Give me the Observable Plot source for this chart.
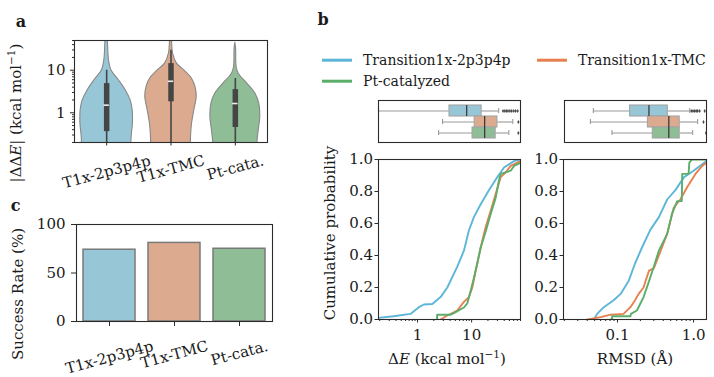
<!DOCTYPE html>
<html><head><meta charset="utf-8">
<script src="https://cdn.jsdelivr.net/npm/d3@7"></script>
<script src="https://cdn.jsdelivr.net/npm/@observablehq/plot@0.6"></script>
<style>
body{margin:0;background:#fff;}
#root{position:relative;width:714px;height:377px;overflow:hidden;color:#1a1a1a;background:#fff;}
.p{position:absolute;line-height:0;}
.lbl{position:absolute;white-space:nowrap;line-height:1;}
.rot{transform:translate(-50%,-50%) rotate(-90deg);}
.ctr{transform:translate(-50%,-50%);}
.pl{position:absolute;font-weight:bold;line-height:1;transform:translate(-50%,-50%);}
.leg{position:absolute;line-height:1;white-space:nowrap;transform:translateY(-50%);}
.sw{position:absolute;width:30px;height:2.6px;transform:translateY(-50%);}
sup{font-size:0.7em;vertical-align:0.5em;line-height:0;}
</style></head><body><div id="root"></div><script>
// ---------- data ----------
const groups = ["T1x-2p3p4p", "T1x-TMC", "Pt-cata."];
const seriesNames = ["Transition1x-2p3p4p", "Transition1x-TMC", "Pt-catalyzed"];
const fillColors = ["#97c6d7", "#dcaa8e", "#8ebd96"];
const lineColors = ["#5cb6d8", "#e6804f", "#5aae69"];

// panel a: violin profiles (|ΔΔE| value, relative half-width)
const violinBlueV = [0.15, 0.27, 0.56, 1.16, 1.98, 3.4, 5.8, 10, 17.1, 46, 60];
const violinBlueW = [0.95, 0.96, 1.01, 1.0, 0.92, 0.73, 0.47, 0.18, 0.09, 0.05, 0.04];
const violinOrangeV = [0.15, 0.27, 0.56, 1.16, 2.37, 4.06, 6.4, 10, 14.3, 24.5, 46, 60];
const violinOrangeW = [0.76, 0.77, 0.81, 0.9, 0.99, 0.94, 0.8, 0.5, 0.23, 0.08, 0.04, 0.03];
const violinGreenV = [0.15, 0.2, 0.39, 0.8, 1.65, 2.83, 4.85, 8.3, 11.9, 32, 44];
const violinGreenW = [0.84, 0.85, 0.9, 0.96, 0.92, 0.77, 0.46, 0.13, 0.05, 0.03, 0.0];
const violinLo = [0.1, 0.1, 0.1];
const violinQ1 = [0.36, 1.81, 0.45];
const violinMed = [1.51, 5.5, 1.65];
const violinQ3 = [4.85, 14.3, 3.5];
const violinHi = [10, 29.4, 6.4];
const aMajorTicks = [1, 10];
const aMinorTicks = [0.2, 0.3, 0.4, 0.5, 0.6, 0.7, 0.8, 0.9, 2, 3, 4, 5, 6, 7, 8, 9, 20, 30, 40, 50];

// panel c
const successRate = [74, 81, 75];
const cTicks = [0, 50, 100];

// panel b: box summaries, ΔE
const dEBoxLo = [0.19, 2.9, 2.45];
const dEBoxQ1 = [3.9, 11.4, 10.4];
const dEBoxMed = [8.1, 17.4, 17.4];
const dEBoxQ3 = [15.3, 30, 27.8];
const dEBoxHi = [31.6, 57.5, 48.7];
const dEOutBlue = [38, 41, 44, 47, 51, 55, 60, 65, 71];
const dEOutOrange = [73];
const dEOutGreen = [73];
// panel b: box summaries, RMSD
const rmsdBoxLo = [0.047, 0.043, 0.083];
const rmsdBoxQ1 = [0.144, 0.248, 0.288];
const rmsdBoxMed = [0.256, 0.469, 0.469];
const rmsdBoxQ3 = [0.455, 0.654, 0.654];
const rmsdBoxHi = [0.885, 1.13, 0.97];
const rmsdOutBlue = [0.93, 0.98, 1.03, 1.08, 1.13, 1.2, 1.4];
const rmsdOutOrange = [1.35];
const rmsdOutGreen = [1.46];

// panel b: ECDFs, ΔE
const dEBlueX = [0.19, 0.36, 0.74, 1.06, 1.31, 1.87, 2.67, 3.55, 5.43, 7.2, 8.9, 11, 14.7, 21, 29.9, 39.7, 61, 80];
const dEBlueP = [0.01, 0.02, 0.035, 0.077, 0.094, 0.097, 0.14, 0.2, 0.33, 0.43, 0.556, 0.64, 0.72, 0.81, 0.89, 0.95, 0.99, 1.0];
const dEOrangeX = [2.67, 3.55, 5.43, 7.2, 8.9, 10.3, 11.9, 14.7, 18.2, 22.5, 27.8, 34.5, 42.6, 52.7, 70, 80];
const dEOrangeP = [0, 0.025, 0.056, 0.11, 0.14, 0.2, 0.306, 0.45, 0.58, 0.68, 0.785, 0.89, 0.92, 0.96, 0.98, 0.99];
const dEGreenX = [2.3, 2.3, 4.1, 4.7, 7.2, 8.3, 9.6, 11, 12.7, 14.7, 18.2, 22.5, 27.8, 32, 34.5, 52.7, 61, 70, 80];
const dEGreenP = [0, 0.03, 0.03, 0.04, 0.075, 0.1, 0.18, 0.26, 0.35, 0.45, 0.55, 0.66, 0.76, 0.87, 0.91, 0.93, 0.96, 0.97, 0.98];
// panel b: ECDFs, RMSD
const rmsdBlueX = [0.049, 0.054, 0.066, 0.089, 0.11, 0.14, 0.17, 0.21, 0.27, 0.35, 0.45, 0.58, 0.75, 1.0, 1.3, 1.48];
const rmsdBlueP = [0, 0.035, 0.077, 0.12, 0.16, 0.24, 0.35, 0.45, 0.56, 0.64, 0.75, 0.81, 0.89, 0.93, 0.97, 0.99];
const rmsdOrangeX = [0.04, 0.06, 0.081, 0.12, 0.148, 0.17, 0.19, 0.22, 0.26, 0.30, 0.35, 0.45, 0.55, 0.67, 0.83, 1.06, 1.3, 1.48];
const rmsdOrangeP = [0, 0.015, 0.03, 0.035, 0.077, 0.12, 0.16, 0.2, 0.306, 0.32, 0.4, 0.535, 0.70, 0.75, 0.83, 0.91, 0.96, 0.98];
const rmsdGreenX = [0.081, 0.085, 0.085, 0.148, 0.15, 0.18, 0.2, 0.22, 0.26, 0.3, 0.35, 0.45, 0.52, 0.61, 0.7, 0.71, 0.86, 0.88, 0.95, 1.48];
const rmsdGreenP = [0, 0, 0.02, 0.02, 0.035, 0.056, 0.1, 0.14, 0.24, 0.33, 0.43, 0.535, 0.66, 0.74, 0.74, 0.91, 0.91, 0.98, 1.0, 1.0];

const cdfYTicks = [0, 0.2, 0.4, 0.6, 0.8, 1.0];
const dEDomain = [0.19, 80];
const dEMajorTicks = [1, 10];
const dEMinorTicks = [0.2, 0.3, 0.4, 0.5, 0.6, 0.7, 0.8, 0.9, 2, 3, 4, 5, 6, 7, 8, 9, 20, 30, 40, 50, 60, 70, 80];
const rmsdDomain = [0.0195, 1.48];
const rmsdMajorTicks = [0.1, 1.0];
const rmsdMinorTicks = [0.02, 0.03, 0.04, 0.05, 0.06, 0.07, 0.08, 0.09, 0.2, 0.3, 0.4, 0.5, 0.6, 0.7, 0.8, 0.9];

// ---------- font pick ----------
const ctx = document.createElement("canvas").getContext("2d");
function wOf(font) { ctx.font = font; return ctx.measureText("Transition1x-2p3p4p mwil").width; }
function available(name) {
  return wOf(`20px '${name}', monospace`) !== wOf("20px monospace") || wOf(`20px '${name}', sans-serif`) !== wOf("20px sans-serif");
}
const candidates = [["DejaVu Serif", 1.0], ["Liberation Serif", 1.12], ["Noto Serif", 1.0]];
let FAMNAME = "DejaVu Serif", K = 1.0;
for (const [n, k] of candidates) { if (available(n)) { FAMNAME = n; K = k; break; } }
const FONT = `'${FAMNAME}', serif`;
const FS = 15 * K, LFS = 14 * K, PFS = 16 * K;

// ---------- helpers ----------
const root = document.getElementById("root");
root.style.fontFamily = FONT;
const INK = "#1a1a1a";
const SPINE = "#2b2b2b";
const baseStyle = {fontFamily: FONT, fontSize: FS + "px", color: INK, background: "transparent", overflow: "visible"};
function place(node, left, top) {
  const d = document.createElement("div");
  d.className = "p"; d.style.left = left + "px"; d.style.top = top + "px";
  d.appendChild(node); root.appendChild(d);
}
function html(cls, left, top, inner, size, extra) {
  const d = document.createElement("div");
  d.className = cls; d.style.left = left + "px"; d.style.top = top + "px";
  if (size) d.style.fontSize = size + "px";
  d.innerHTML = inner; if (extra) Object.assign(d.style, extra);
  root.appendChild(d); return d;
}
ctx.font = `${FS}px ${FONT}`;
const ROT = 15 * Math.PI / 180;
function rotatedLabels(xOf, base) {
  ctx.font = `${FS}px ${FONT}`;
  return groups.map((g, i) => {
    const w = ctx.measureText(g).width;
    const dy = base + (w * Math.sin(ROT) + FS * Math.cos(ROT)) / 2;
    return Plot.text([g], {x: () => xOf(g, i), text: d => d, frameAnchor: "bottom", dy, rotate: -15,
      textAnchor: "middle", lineAnchor: "middle", fontSize: FS, fill: INK});
  });
}
const colorScale = {domain: groups, range: fillColors};
const VW = 0.404; // relative half-width -> x units

// ---------- panel a ----------
const violinV = [violinBlueV, violinOrangeV, violinGreenV];
const violinW = [violinBlueW, violinOrangeW, violinGreenW];
const violinRows = groups.flatMap((g, i) => violinV[i].map((v, j) => ({group: g, i, v, w: violinW[i][j]})));
const boxA = groups.map((g, i) => ({group: g, i, lo: violinLo[i], q1: violinQ1[i], med: violinMed[i], q3: violinQ3[i], hi: violinHi[i]}));
place(Plot.plot({
  width: 290, height: 190, marginLeft: 74, marginRight: 23, marginTop: 40, marginBottom: 48,
  style: baseStyle,
  x: {domain: [-0.5, 2.5], axis: null},
  y: {type: "log", domain: [0.2, 50], axis: null},
  color: colorScale,
  marks: [
    Plot.areaX(violinRows, {y: "v", x1: d => d.i - d.w * VW, x2: d => d.i + d.w * VW, z: "group", fill: "group",
      stroke: "#888", strokeWidth: 1.1, curve: "catmull-rom", clip: true}),
    Plot.ruleX(boxA, {x: "i", y1: "lo", y2: "hi", stroke: "#454545", strokeWidth: 1.6, clip: true}),
    Plot.ruleX(boxA, {x: "i", y1: "q1", y2: "q3", stroke: "#454545", strokeWidth: 5.5}),
    Plot.ruleY(boxA, {y: "med", x1: d => d.i - 0.042, x2: d => d.i + 0.042, stroke: "#eeeeee", strokeWidth: 1.6}),
    Plot.axisY({ticks: aMajorTicks, tickFormat: d => String(d), tickSize: 4, tickPadding: 5, stroke: SPINE, label: null}),
    Plot.axisY({ticks: aMinorTicks, tickFormat: () => "", tickSize: 2, stroke: SPINE, label: null}),
    Plot.axisX({ticks: [0, 1, 2], tickFormat: () => "", tickSize: 3.5, stroke: SPINE, label: null}),
    Plot.frame({stroke: SPINE, strokeWidth: 1.1}),
    ...rotatedLabels((g, i) => i, 10.5)
  ]
}), 0, 0);

// ---------- panel c ----------
place(Plot.plot({
  width: 290, height: 187, marginLeft: 76, marginRight: 18, marginTop: 34, marginBottom: 56,
  style: baseStyle,
  x: {domain: groups, paddingInner: 0.2, paddingOuter: 0.1, axis: null},
  y: {domain: [0, 100], axis: null},
  color: colorScale,
  marks: [
    Plot.barY(groups.map((g, i) => ({group: g, rate: successRate[i]})), {x: "group", y: "rate", fill: "group", stroke: "#7a7a7a", strokeWidth: 1.5}),
    Plot.axisY({ticks: cTicks, tickFormat: d => String(d), tickSize: 5, tickPadding: 6, stroke: SPINE, label: null}),
    Plot.axisX({tickFormat: () => "", tickSize: 5, stroke: SPINE, label: null}),
    Plot.frame({stroke: SPINE, strokeWidth: 1.1}),
    ...rotatedLabels((g) => g, 17)
  ]
}), 0, 190);

// ---------- panel b boxes ----------
function boxPlot(lo, q1, med, q3, hi, outs, domain, w, ml, mr) {
  const rows = groups.map((g, i) => ({group: g, lo: lo[i], q1: q1[i], med: med[i], q3: q3[i], hi: hi[i]}));
  const outRows = groups.flatMap((g, i) => outs[i].map(v => ({group: g, v})));
  return Plot.plot({
    width: w, height: 55, marginLeft: ml, marginRight: mr, marginTop: 8, marginBottom: 5,
    style: baseStyle,
    x: {type: "log", domain, axis: null},
    y: {domain: groups, paddingInner: 0, paddingOuter: 0.375, axis: null},
    color: colorScale,
    marks: [
      Plot.ruleY(rows, {y: "group", x1: "lo", x2: "q1", stroke: "#9a9a9a", strokeWidth: 1.1}),
      Plot.ruleY(rows, {y: "group", x1: "q3", x2: "hi", stroke: "#9a9a9a", strokeWidth: 1.1}),
      Plot.tickX(rows, {x: "lo", y: "group", stroke: "#9a9a9a", strokeWidth: 1.1, insetTop: 3, insetBottom: 3}),
      Plot.tickX(rows, {x: "hi", y: "group", stroke: "#9a9a9a", strokeWidth: 1.1, insetTop: 3, insetBottom: 3}),
      Plot.barX(rows, {y: "group", x1: "q1", x2: "q3", fill: "group", stroke: "#a5a5a5", strokeWidth: 1.1}),
      Plot.tickX(rows, {x: "med", y: "group", stroke: "#3c3c3c", strokeWidth: 1.3}),
      Plot.dot(outRows, {x: "v", y: "group", r: 1.2, symbol: "diamond", fill: "#4a4a4a", stroke: "none", clip: true}),
      Plot.frame({stroke: SPINE, strokeWidth: 1.1})
    ]
  });
}
place(boxPlot(dEBoxLo, dEBoxQ1, dEBoxMed, dEBoxQ3, dEBoxHi, [dEOutBlue, dEOutOrange, dEOutGreen], dEDomain, 160, 8, 10), 370, 92);
place(boxPlot(rmsdBoxLo, rmsdBoxQ1, rmsdBoxMed, rmsdBoxQ3, rmsdBoxHi, [rmsdOutBlue, rmsdOutOrange, rmsdOutGreen], rmsdDomain, 159, 9, 8), 555, 92);

// ---------- panel b ECDFs ----------
function rowsOf(xs, ps) { return xs.map((x, j) => ({x, p: ps[j]})); }
function cdfPlot(series, domain, major, minor, majorFmt, w, ml, mr) {
  return Plot.plot({
    width: w, height: 227, marginLeft: ml, marginRight: mr, marginTop: 9, marginBottom: 58,
    style: baseStyle,
    x: {type: "log", domain, axis: null},
    y: {domain: [0, 1], axis: null},
    marks: [
      ...series.map((s, i) => Plot.line(s, {x: "x", y: "p", stroke: lineColors[i], strokeWidth: 1.9, clip: true})),
      Plot.axisY({ticks: cdfYTicks, tickFormat: d3.format(".1f"), tickSize: 3.5, tickPadding: 2, stroke: SPINE, label: null}),
      Plot.axisX({ticks: major, tickFormat: majorFmt, tickSize: 3.5, tickPadding: 6, stroke: SPINE, label: null}),
      Plot.axisX({ticks: minor, tickFormat: () => "", tickSize: 2, stroke: SPINE, label: null}),
      Plot.frame({stroke: SPINE, strokeWidth: 1.1})
    ]
  });
}
place(cdfPlot([rowsOf(dEBlueX, dEBlueP), rowsOf(dEOrangeX, dEOrangeP), rowsOf(dEGreenX, dEGreenP)],
  dEDomain, dEMajorTicks, dEMinorTicks, d => String(d), 225, 78, 5), 300, 150);
place(cdfPlot([rowsOf(rmsdBlueX, rmsdBlueP), rowsOf(rmsdOrangeX, rmsdOrangeP), rowsOf(rmsdGreenX, rmsdGreenP)],
  rmsdDomain, rmsdMajorTicks, rmsdMinorTicks, d3.format(".1f"), 189, 38, 8), 525, 150);

// ---------- text ----------
html("pl", 21, 22, "a", PFS);
html("pl", 323, 20, "b", PFS);
html("pl", 15.5, 206, "c", PFS);
html("lbl rot", 15.5, 113, "|ΔΔ<i>E</i>| (kcal mol<sup>−1</sup>)", FS);
html("lbl rot", 17.5, 294, "Success Rate (%)", FS);
html("lbl rot", 330, 233, "Cumulative probability", FS);
html("lbl ctr", 447, 359, "Δ<i>E</i> (kcal mol<sup>−1</sup>)", FS);
html("lbl ctr", 635, 359, "RMSD (Å)", FS);

// legend
const legendPos = [[322, 60], [537, 60], [322, 81]];
seriesNames.forEach((name, i) => {
  const [lx, ly] = legendPos[i];
  html("sw", lx, ly, "", null, {background: lineColors[i]});
  html("leg", lx + 41, ly, name, LFS);
});
</script></body></html>
